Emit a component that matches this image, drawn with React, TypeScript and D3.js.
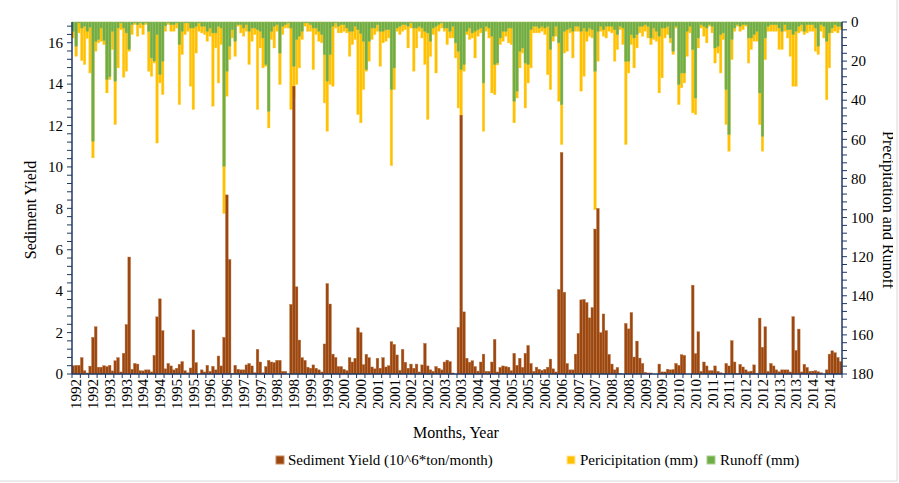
import React from "react";
import * as d3 from "d3";

// Sediment yield (10^6 ton/month), one row per year, Jan..Dec
const sediment: number[] = [
  0.4, 0.42, 0.42, 0.79, 0.16, 0.05, 0.38, 1.77, 2.28, 0.33, 0.33, 0.4, // 1992
  0.36, 0.42, 0.15, 0.64, 0.79, 0.1, 1.0, 2.39, 5.65, 0.23, 0.51, 0.48, // 1993
  0.16, 0.15, 0.2, 0.2, 0.1, 0.9, 2.76, 3.63, 2.09, 0.25, 0.51, 0.39, // 1994
  0.2, 0.28, 0.47, 0.6, 0.16, 0.06, 0.29, 2.13, 0.55, 0.0, 0.2, 0.1, // 1995
  0.42, 0.13, 0.37, 0.2, 0.87, 0.39, 1.77, 8.65, 5.53, 0.03, 0.42, 0.23, // 1996
  0.2, 0.2, 0.44, 0.51, 0.39, 0.06, 1.19, 0.58, 0.06, 0.36, 0.66, 0.58, // 1997
  0.55, 0.66, 0.66, 0.13, 0.13, 0.0, 3.36, 13.9, 4.21, 1.64, 0.79, 0.66, // 1998
  0.33, 0.28, 0.44, 0.28, 0.2, 0.1, 1.45, 4.37, 3.38, 0.96, 0.8, 0.36, // 1999
  0.36, 0.23, 0.16, 0.79, 0.58, 0.76, 2.23, 2.0, 0.45, 0.95, 0.79, 0.34, // 2000
  0.25, 0.76, 0.28, 0.79, 0.34, 0.4, 1.56, 1.43, 0.92, 0.18, 1.19, 0.57, // 2001
  0.28, 0.48, 0.28, 0.48, 0.1, 0.44, 1.48, 0.39, 0.2, 0.13, 0.36, 0.28, // 2002
  0.2, 0.58, 0.67, 0.6, 0.05, 0.0, 2.25, 12.5, 3.0, 0.76, 0.57, 0.64, // 2003
  0.36, 0.14, 0.58, 0.96, 0.13, 0.13, 0.58, 1.67, 0.1, 0.32, 0.39, 0.36, // 2004
  0.33, 0.16, 1.0, 0.42, 0.76, 0.32, 1.0, 1.38, 0.51, 0.13, 0.33, 0.23, // 2005
  0.18, 0.23, 0.33, 0.72, 0.25, 0.1, 4.08, 10.7, 3.95, 0.51, 0.2, 0.2, // 2006
  0.96, 1.96, 3.58, 3.6, 3.45, 2.71, 3.21, 7.0, 8.0, 2.0, 2.9, 2.1, // 2007
  0.95, 0.48, 0.2, 0.32, 0.03, 0.0, 2.44, 2.18, 2.97, 0.82, 1.59, 0.77, // 2008
  0.51, 0.08, 0.05, 0.05, 0.0, 0.0, 0.48, 0.1, 0.1, 0.23, 0.2, 0.22, // 2009
  0.51, 0.42, 0.93, 0.9, 0.0, 0.0, 4.29, 0.98, 2.04, 0.13, 0.58, 0.39, // 2010
  0.16, 0.16, 0.39, 0.13, 0.06, 0.03, 0.51, 0.39, 1.61, 0.58, 0.02, 0.47, // 2011
  0.34, 0.2, 0.11, 0.14, 0.44, 0.03, 2.7, 1.29, 2.28, 0.13, 0.51, 0.39, // 2012
  0.2, 0.11, 0.2, 0.2, 0.2, 0.1, 2.77, 1.14, 2.17, 0.1, 0.47, 0.32, // 2013
  0.13, 0.14, 0.16, 0.11, 0.06, 0.0, 0.2, 0.96, 1.12, 1.03, 0.8, 0.6, // 2014
];

// Precipitation (mm)
const precipitation: number[] = [
  8.2, 17.6, 5.6, 19.8, 21.8, 8.5, 26.1, 69.5, 15.0, 10.7, 9.9, 11.6, // 1992
  36.3, 29.5, 14.1, 52.5, 23.5, 4.0, 28.3, 25.2, 15.0, 6.5, 1.4, 7.3, // 1993
  3.1, 6.5, 1.4, 25.2, 27.8, 21.0, 61.9, 31.2, 37.2, 4.8, 1.4, 4.8, // 1994
  4.8, 3.1, 42.3, 16.7, 6.5, 4.8, 32.9, 44.8, 15.9, 4.8, 5.6, 6.5, // 1995
  9.9, 7.3, 43.1, 13.3, 31.2, 11.6, 98.0, 38.0, 19.3, 8.2, 17.6, 2.2, // 1996
  5.6, 7.3, 4.8, 21.8, 9.9, 6.5, 44.8, 13.3, 23.5, 22.7, 54.2, 9.0, // 1997
  13.3, 4.8, 32.0, 6.5, 3.1, 3.1, 44.8, 38.9, 32.0, 23.5, 9.0, 2.2, // 1998
  4.8, 4.8, 24.4, 6.5, 9.9, 10.7, 41.4, 55.9, 32.0, 32.9, 3.1, 5.6, // 1999
  5.6, 4.8, 5.6, 17.6, 11.6, 9.0, 47.4, 51.6, 34.6, 25.2, 20.1, 9.0, // 2000
  6.5, 4.8, 22.7, 10.7, 9.9, 8.2, 73.5, 34.6, 4.8, 6.5, 4.8, 4.0, // 2001
  13.3, 3.1, 25.2, 13.3, 4.8, 8.2, 21.8, 49.9, 17.6, 6.5, 26.1, 4.8, // 2002
  3.1, 4.8, 11.6, 8.2, 8.2, 18.4, 44.0, 48.0, 25.2, 6.5, 9.0, 8.2, // 2003
  18.4, 7.3, 5.6, 55.9, 4.8, 8.2, 36.3, 37.2, 22.0, 11.6, 9.9, 7.3, // 2004
  10.7, 11.6, 51.6, 38.9, 23.5, 15.9, 44.0, 31.2, 23.5, 5.6, 5.6, 5.6, // 2005
  4.8, 6.5, 27.0, 34.6, 9.9, 7.3, 40.6, 62.7, 15.9, 15.0, 5.6, 18.4, // 2006
  4.8, 4.8, 35.4, 27.8, 9.9, 7.3, 8.2, 96.0, 20.1, 4.8, 7.3, 8.2, // 2007
  4.8, 5.6, 20.1, 14.1, 4.0, 11.6, 62.7, 26.1, 11.6, 23.5, 13.3, 5.6, // 2008
  7.3, 4.8, 8.2, 11.6, 9.0, 9.9, 36.3, 28.6, 8.2, 6.5, 10.7, 16.7, // 2009
  3.1, 42.3, 33.7, 31.2, 17.6, 5.6, 46.5, 47.4, 13.3, 3.1, 7.3, 10.7, // 2010
  2.2, 5.6, 21.0, 15.9, 26.1, 9.0, 52.5, 66.1, 19.3, 4.8, 2.2, 4.8, // 2011
  4.0, 2.2, 21.0, 14.1, 9.9, 9.9, 52.5, 66.1, 19.3, 4.8, 4.8, 4.8, // 2012
  4.8, 14.1, 14.1, 4.8, 8.2, 17.6, 32.9, 32.9, 5.6, 4.8, 6.5, 5.6, // 2013
  4.8, 4.8, 15.0, 16.7, 4.8, 8.2, 39.8, 23.5, 5.6, 4.8, 5.6, 4.0, // 2014
];

// Runoff (mm)
const runoff: number[] = [
  4.8, 12.4, 0.5, 3.1, 2.2, 4.8, 2.7, 61.0, 9.9, 9.0, 3.1, 9.5, // 1992
  29.5, 28.0, 4.8, 30.3, 3.1, 0.5, 3.1, 5.6, 14.0, 1.4, 0.5, 1.4, // 1993
  0.5, 1.4, 0.5, 4.8, 18.4, 20.0, 6.5, 26.9, 20.1, 2.0, 0.5, 1.4, // 1994
  1.4, 0.5, 11.6, 4.8, 0.5, 0.5, 3.1, 3.1, 2.2, 0.5, 2.2, 2.2, // 1995
  4.8, 3.1, 5.6, 5.6, 2.2, 3.1, 73.8, 25.2, 12.4, 4.0, 9.9, 1.4, // 1996
  1.4, 3.1, 1.4, 4.8, 3.1, 3.1, 4.0, 4.8, 8.2, 21.8, 45.7, 4.8, // 1997
  2.2, 1.4, 15.9, 2.2, 1.4, 0.5, 3.1, 22.7, 9.0, 7.3, 4.8, 0.5, // 1998
  0.5, 1.4, 3.1, 3.1, 4.8, 6.5, 16.7, 30.3, 16.7, 2.2, 0.5, 2.2, // 1999
  1.4, 1.4, 3.1, 4.8, 4.8, 2.2, 4.0, 6.0, 9.9, 24.4, 9.9, 3.1, // 2000
  3.1, 1.4, 4.8, 4.8, 4.0, 4.0, 34.6, 23.5, 3.1, 2.2, 1.4, 1.4, // 2001
  2.2, 0.5, 3.1, 3.1, 2.2, 3.1, 4.8, 5.6, 9.9, 3.1, 2.2, 1.4, // 2002
  0.5, 3.1, 3.1, 4.8, 2.2, 10.7, 15.0, 24.4, 21.8, 4.8, 3.1, 5.6, // 2003
  4.8, 4.0, 3.1, 31.2, 2.2, 3.1, 7.3, 21.8, 21.0, 8.2, 4.8, 4.8, // 2004
  3.1, 3.1, 40.6, 35.4, 15.0, 13.3, 21.0, 21.8, 4.0, 2.2, 2.2, 3.1, // 2005
  2.2, 3.1, 2.2, 14.1, 7.3, 2.2, 10.7, 42.3, 4.8, 4.0, 3.1, 4.8, // 2006
  2.2, 2.2, 4.8, 3.1, 4.8, 3.1, 4.0, 25.2, 4.8, 2.2, 4.0, 2.2, // 2007
  2.2, 2.2, 4.0, 6.5, 2.2, 3.1, 20.1, 20.1, 6.5, 8.2, 6.5, 2.2, // 2008
  2.2, 1.4, 2.2, 8.2, 3.1, 4.8, 7.3, 3.1, 3.1, 2.2, 8.2, 15.0, // 2009
  2.2, 32.0, 26.1, 26.1, 4.8, 2.2, 14.1, 38.9, 8.2, 1.4, 2.2, 3.1, // 2010
  1.4, 2.2, 13.3, 12.4, 6.5, 5.6, 34.6, 57.6, 9.0, 3.1, 1.4, 2.2, // 2011
  1.4, 1.4, 8.2, 8.2, 6.5, 4.8, 36.3, 58.5, 8.2, 2.2, 1.4, 1.4, // 2012
  1.4, 3.1, 4.8, 1.4, 4.0, 4.0, 6.5, 4.8, 2.2, 1.4, 4.8, 1.4, // 2013
  1.4, 1.4, 3.1, 12.4, 1.4, 2.2, 9.9, 5.6, 3.1, 1.4, 2.2, 2.2, // 2014
];

// X tick labels (one every 6 months)
const xTickLabels: string[] = [
  "1992", "1992", "1993", "1993", "1994", "1994", "1995", "1995",
  "1996", "1996", "1997", "1997", "1998", "1998", "1999", "1999",
  "2000", "2000", "2001", "2001", "2002", "2002", "2003", "2003",
  "2004", "2004", "2005", "2005", "2006", "2006", "2007", "2007",
  "2008", "2008", "2009", "2009", "2010", "2010", "2011", "2011",
  "2012", "2012", "2013", "2013", "2014", "2014",
];
const leftTicks: number[] = [0, 2, 4, 6, 8, 10, 12, 14, 16];
const rightTicks: number[] = [0, 20, 40, 60, 80, 100, 120, 140, 160, 180];

const W = 899;
const H = 483;
const X0 = 72;
const X1 = 842;
const Y0 = 22;
const Y1 = 374;
const FONT = "'Liberation Serif', 'Times New Roman', serif";
const AXIS = "#1f3864";
const BROWN = "#9c4710";
const YELLOW = "#ffc000";
const GREEN = "#70ad47";

export default function App() {
  const n = sediment.length;
  const x = d3
    .scaleBand<number>()
    .domain(d3.range(n))
    .range([X0, X1])
    .paddingInner(0.04)
    .paddingOuter(0.02);
  const step = x.step();
  const yL = d3.scaleLinear().domain([0, 17]).range([Y1, Y0]);
  const yR = d3.scaleLinear().domain([0, 180]).range([Y0, Y1]);

  const leftMinor = d3.range(0, 16.9, 0.4);
  const rightMinor = d3.range(0, 181, 4);
  const xMinor = d3.range(0, n + 1, 3);
  const monthEdge = (m: number) => X0 + (m / n) * (X1 - X0);

  return (
    <svg
      width={W}
      height={H}
      viewBox={`0 0 ${W} ${H}`}
      style={{ position: "absolute", left: 0, top: 0, background: "#fff" }}
      fontFamily={FONT}
    >
      <defs>
        <clipPath id="chartArea">
          <rect x={0} y={0} width={893} height={481} />
        </clipPath>
      </defs>
      <rect x={0} y={0} width={W} height={H} fill="#fff" />

      {/* precipitation */}
      <g>
        {precipitation.map((v, i) => (
          <rect
            key={"p" + i}
            x={x(i)}
            y={Y0}
            width={x.bandwidth()}
            height={yR(v) - Y0}
            fill={YELLOW}
            stroke="#ffd966"
            strokeWidth={0.4}
          />
        ))}
      </g>
      {/* runoff */}
      <g>
        {runoff.map((v, i) => (
          <rect
            key={"r" + i}
            x={x(i)}
            y={Y0}
            width={x.bandwidth()}
            height={yR(v) - Y0}
            fill={GREEN}
            stroke="#8fc06b"
            strokeWidth={0.4}
          />
        ))}
      </g>
      {/* sediment */}
      <g>
        {sediment.map((v, i) => (
          <rect
            key={"s" + i}
            x={x(i)}
            y={yL(v)}
            width={x.bandwidth()}
            height={Y1 - yL(v)}
            fill={BROWN}
            stroke="#b8703e"
            strokeWidth={0.4}
          />
        ))}
      </g>

      {/* left axis */}
      <line x1={X0} x2={X0} y1={Y0} y2={Y1} stroke={AXIS} strokeWidth={1.5} />
      {leftMinor.map((t) => (
        <line key={"lt" + t} x1={X0 - 5} x2={X0} y1={yL(t)} y2={yL(t)} stroke={AXIS} strokeWidth={1} />
      ))}
      {leftTicks.map((t) => (
        <text key={"ll" + t} x={X0 - 9} y={yL(t)} dy="0.35em" textAnchor="end" fontSize={15} fill="#000">
          {t}
        </text>
      ))}

      {/* right axis */}
      <line x1={X1} x2={X1} y1={Y0} y2={Y1} stroke={AXIS} strokeWidth={1.5} />
      {rightMinor.map((t) => (
        <line key={"rt" + t} x1={X1} x2={X1 + 5} y1={yR(t)} y2={yR(t)} stroke={AXIS} strokeWidth={1} />
      ))}
      {rightTicks.map((t) => (
        <text key={"rl" + t} x={X1 + 9} y={yR(t)} dy="0.35em" textAnchor="start" fontSize={15} fill="#000">
          {t}
        </text>
      ))}

      {/* bottom axis */}
      <line x1={X0} x2={X1} y1={Y1} y2={Y1} stroke={AXIS} strokeWidth={1.5} />
      {xMinor.map((m) => (
        <line key={"xt" + m} x1={monthEdge(m)} x2={monthEdge(m)} y1={Y1} y2={Y1 + 4} stroke={AXIS} strokeWidth={1} />
      ))}
      {xTickLabels.map((lab, i) => {
        const cx = (x(i * 6 + 1) as number) + step / 2;
        return (
          <text
            key={"xl" + i}
            transform={`translate(${cx},${Y1 + 5}) rotate(-90)`}
            textAnchor="end"
            dy="0.35em"
            fontSize={15}
            fill="#000"
          >
            {lab}
          </text>
        );
      })}

      {/* titles */}
      <text transform={`translate(30,${(Y0 + Y1) / 2 + 12}) rotate(-90)`} textAnchor="middle" dy="0.35em" fontSize={16} fill="#000">
        Sediment Yield
      </text>
      <g clipPath="url(#chartArea)">
        <text transform={`translate(889,${(Y0 + Y1) / 2 + 12}) rotate(90)`} textAnchor="middle" dy="0.35em" fontSize={16} fill="#000">
          Precipitation and Runoff
        </text>
      </g>
      <text x={456} y={438} textAnchor="middle" fontSize={16} fill="#000">
        Months, Year
      </text>

      {/* legend */}
      <g fontSize={15} fill="#000">
        <rect x={276} y={456} width={8} height={8} fill={BROWN} stroke="#c98a5e" strokeWidth={1} />
        <text x={288} y={465}>Sediment Yield (10^6*ton/month)</text>
        <rect x={567} y={456} width={8} height={8} fill={YELLOW} stroke="#ffe699" strokeWidth={1} />
        <text x={580} y={465}>Pericipitation (mm)</text>
        <rect x={707} y={456} width={8} height={8} fill={GREEN} stroke="#a9d08e" strokeWidth={1} />
        <text x={720} y={465}>Runoff (mm)</text>
      </g>

      {/* chart border */}
      <line x1={897} x2={897} y1={0} y2={481} stroke="#d9d9d9" strokeWidth={1} />
      <line x1={0} x2={897} y1={481} y2={481} stroke="#d9d9d9" strokeWidth={1} />
    </svg>
  );
}
